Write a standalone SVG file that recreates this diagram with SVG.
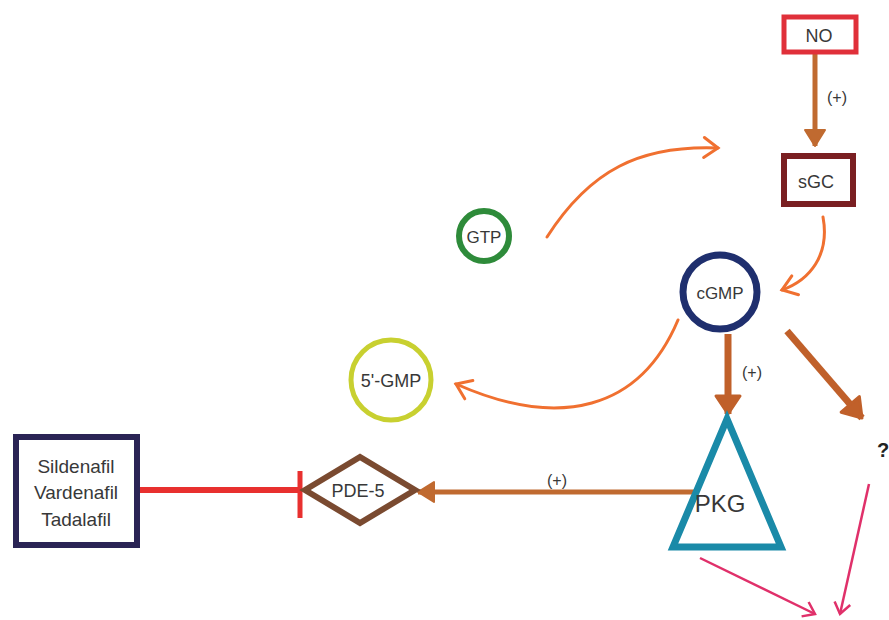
<svg xmlns="http://www.w3.org/2000/svg" width="889" height="620" viewBox="0 0 889 620">
<defs>
<style>
text{font-family:"Liberation Sans","Open Sans",sans-serif;fill:#383838;text-anchor:middle;dominant-baseline:central}
.lbl{font-size:18px}
.small{font-size:16px}
.thin{fill:none;stroke:#f07030;stroke-width:3;stroke-linecap:round}
.thick{fill:none;stroke:#c0602a;stroke-width:7}
.med{fill:none;stroke:#c06a30;stroke-width:5}
.pink{fill:none;stroke:#e0306a;stroke-width:2.5}
</style>
<marker id="aThin" markerUnits="userSpaceOnUse" markerWidth="30" markerHeight="30" refX="16" refY="12" orient="auto" viewBox="0 0 30 24">
<path d="M2 2 L16 12 L2 22" fill="none" stroke="#f07030" stroke-width="3" stroke-linecap="round"/>
</marker>
<marker id="aThick" markerUnits="userSpaceOnUse" markerWidth="30" markerHeight="30" refX="20" refY="14" orient="auto" viewBox="0 0 30 28">
<path d="M2 2 L20 14 L2 26 Z" fill="#c0602a" stroke="#c0602a" stroke-width="3" stroke-linejoin="round"/>
</marker>
<marker id="aMed" markerUnits="userSpaceOnUse" markerWidth="30" markerHeight="30" refX="18" refY="12" orient="auto" viewBox="0 0 30 24">
<path d="M2 2 L18 12 L2 22 Z" fill="#c06a30" stroke="#c06a30" stroke-width="2" stroke-linejoin="round"/>
</marker>
<marker id="aPink" markerUnits="userSpaceOnUse" markerWidth="24" markerHeight="24" refX="12" refY="9" orient="auto" viewBox="0 0 24 18">
<path d="M1 1 L12 9 L1 17" fill="none" stroke="#e0306a" stroke-width="2.5"/>
</marker>
</defs>
<rect width="889" height="620" fill="#ffffff"/>
<g id="connectors">
<path class="med" d="M815 52 L815 146" marker-end="url(#aMed)"/>
<text class="small" x="837" y="97">(+)</text>
<path class="thin" d="M547 237 C590 170 640 145 718 148" marker-end="url(#aThin)"/>
<path class="thin" d="M823 217 C830 255 810 280 782 290" marker-end="url(#aThin)"/>
<path class="thin" d="M678 320 C640 410 560 430 456 384" marker-end="url(#aThin)"/>
<path class="thick" d="M728 334 L728 414" marker-end="url(#aThick)"/>
<text class="small" x="752" y="372">(+)</text>
<path class="thick" d="M787 331 L862 418" marker-end="url(#aThick)"/>
<path class="med" d="M697 492 L418 492" marker-end="url(#aMed)"/>
<text class="small" x="557" y="480">(+)</text>
<path d="M137 490 L298 490" fill="none" stroke="#e8302f" stroke-width="6"/>
<path d="M300 471 L300 518" fill="none" stroke="#e8302f" stroke-width="5"/>
<path class="pink" d="M700 558 L815 614" marker-end="url(#aPink)"/>
<path class="pink" d="M869 484 L840 614" marker-end="url(#aPink)"/>
</g>
<g id="NO">
<rect x="784" y="17" width="72" height="35" fill="none" stroke="#e0303a" stroke-width="5"/>
<text class="lbl" x="819" y="36">NO</text>
</g>
<g id="sGC">
<rect x="784" y="156" width="69" height="48" fill="none" stroke="#7a1f22" stroke-width="6"/>
<text class="lbl" x="816" y="182">sGC</text>
</g>
<g id="GTP">
<circle cx="484" cy="236" r="25" fill="none" stroke="#2e8b3a" stroke-width="6"/>
<text x="484" y="237" style="font-size:17px">GTP</text>
</g>
<g id="cGMP">
<circle cx="720" cy="292" r="37" fill="none" stroke="#1f2f6e" stroke-width="7"/>
<text x="720" y="293" style="font-size:17px">cGMP</text>
</g>
<g id="GMP5">
<circle cx="391" cy="380" r="40" fill="none" stroke="#c8d030" stroke-width="5"/>
<text class="lbl" x="391" y="381">5'-GMP</text>
</g>
<g id="PKG">
<polygon points="727,419 673,547 781,547" fill="none" stroke="#1a8aa8" stroke-width="7" stroke-linejoin="miter"/>
<text x="720" y="503" style="font-size:24px">PKG</text>
</g>
<g id="PDE5">
<polygon points="305,490 360,457 415,490 360,523" fill="none" stroke="#7a4a30" stroke-width="6"/>
<text class="lbl" x="358" y="491">PDE-5</text>
</g>
<g id="drugs">
<rect x="16" y="437" width="121" height="108" fill="none" stroke="#2a2455" stroke-width="6"/>
<text x="76" y="466" style="font-size:19px">Sildenafil</text>
<text x="76" y="492" style="font-size:19px">Vardenafil</text>
<text x="76" y="519" style="font-size:19px">Tadalafil</text>
</g>
<g id="unknown">
<text x="877" y="450" style="font-size:20px;font-weight:bold;fill:#222;text-anchor:start">?</text>
</g>
</svg>
